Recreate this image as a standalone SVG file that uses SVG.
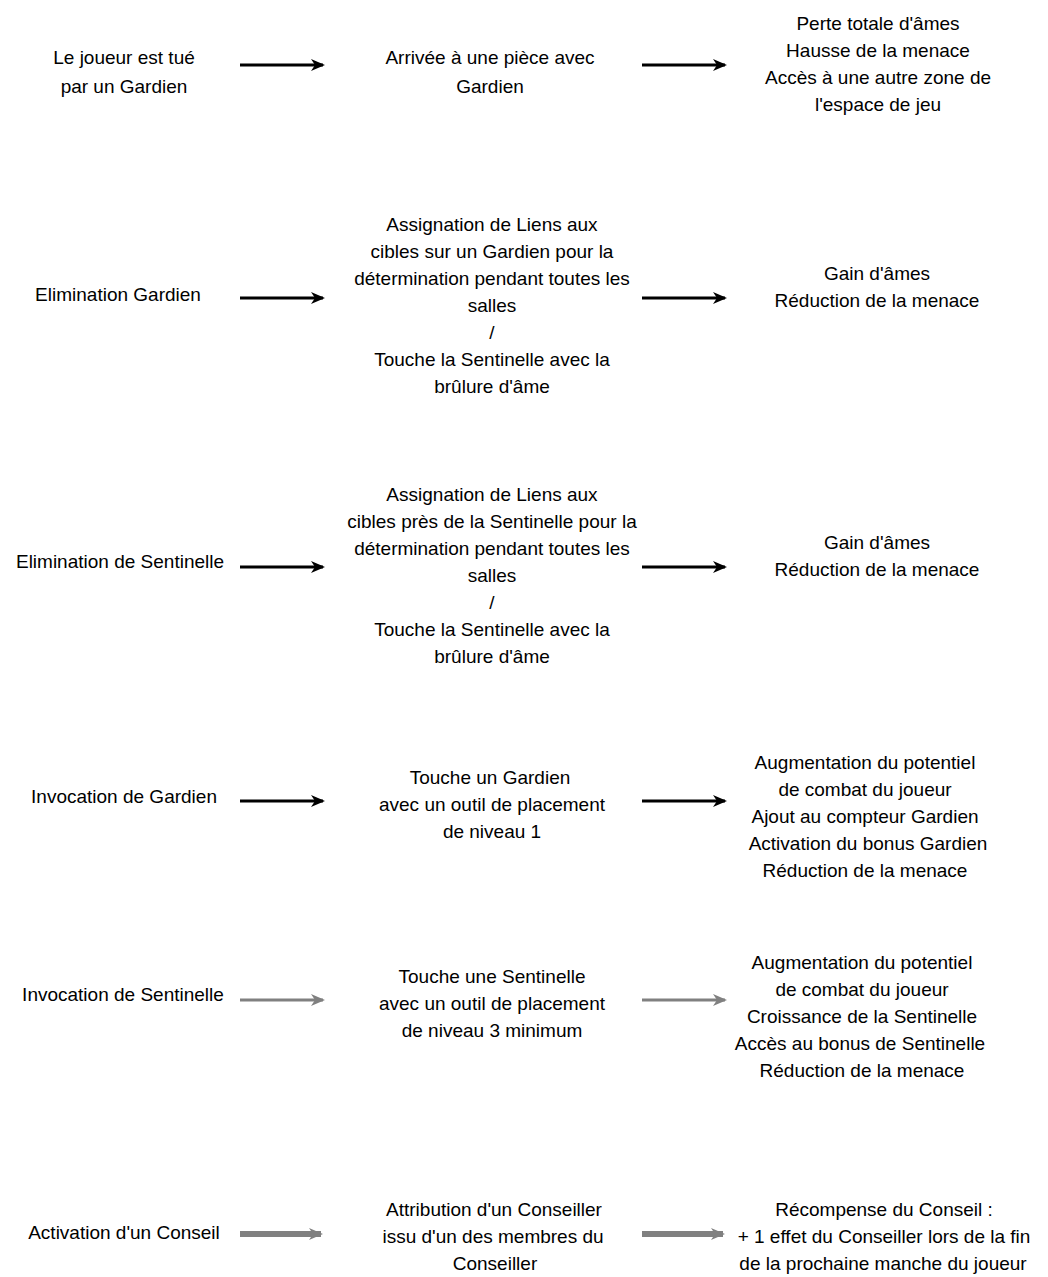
<svg xmlns="http://www.w3.org/2000/svg" width="1048" height="1277" viewBox="0 0 1048 1277">
<style>
text{font-family:"Liberation Sans",Arial,sans-serif;font-size:19px;fill:#000;text-anchor:middle}
.blk{stroke:#000;stroke-width:3;fill:none}
.gry{stroke:#808080;stroke-width:3;fill:none}
.gry2{stroke:#808080;stroke-width:6;fill:none}
</style>
<defs>
<marker id="hb" viewBox="0 0 14 14" markerWidth="14" markerHeight="14" refX="12" refY="7" orient="auto" markerUnits="userSpaceOnUse"><path d="M0,1 L14,7 L0,13 L4,7 z" fill="#000"/></marker>
<marker id="hg" viewBox="0 0 14 14" markerWidth="14" markerHeight="14" refX="12" refY="7" orient="auto" markerUnits="userSpaceOnUse"><path d="M0,1 L14,7 L0,13 L4,7 z" fill="#808080"/></marker>
</defs>
<rect width="1048" height="1277" fill="#fff"/>
<g id="connectors">
<line class="blk" x1="240" y1="65" x2="323" y2="65" marker-end="url(#hb)"/>
<line class="blk" x1="642" y1="65" x2="725" y2="65" marker-end="url(#hb)"/>
<line class="blk" x1="240" y1="298" x2="323" y2="298" marker-end="url(#hb)"/>
<line class="blk" x1="642" y1="298" x2="725" y2="298" marker-end="url(#hb)"/>
<line class="blk" x1="240" y1="567" x2="323" y2="567" marker-end="url(#hb)"/>
<line class="blk" x1="642" y1="567" x2="725" y2="567" marker-end="url(#hb)"/>
<line class="blk" x1="240" y1="801" x2="323" y2="801" marker-end="url(#hb)"/>
<line class="blk" x1="642" y1="801" x2="725" y2="801" marker-end="url(#hb)"/>
<line class="gry" x1="240" y1="1000" x2="323" y2="1000" marker-end="url(#hg)"/>
<line class="gry" x1="642" y1="1000" x2="725" y2="1000" marker-end="url(#hg)"/>
<line class="gry2" x1="240" y1="1234" x2="321" y2="1234" marker-end="url(#hg)"/>
<line class="gry2" x1="642" y1="1234" x2="723" y2="1234" marker-end="url(#hg)"/>
</g>
<g id="r1a"><text x="124" y="64">Le joueur est tué</text><text x="124" y="93">par un Gardien</text></g>
<g id="r1b"><text x="490" y="64">Arrivée à une pièce avec</text><text x="490" y="93">Gardien</text></g>
<g id="r1c"><text x="878" y="30">Perte totale d'âmes</text><text x="878" y="57">Hausse de la menace</text><text x="878" y="84">Accès à une autre zone de</text><text x="878" y="111">l'espace de jeu</text></g>
<g id="r2a"><text x="118" y="301">Elimination Gardien</text></g>
<g id="r2b"><text x="492" y="231">Assignation de Liens aux</text><text x="492" y="258">cibles sur un Gardien pour la</text><text x="492" y="285">détermination pendant toutes les</text><text x="492" y="312">salles</text><text x="492" y="339">/</text><text x="492" y="366">Touche la Sentinelle avec la</text><text x="492" y="393">brûlure d'âme</text></g>
<g id="r2c"><text x="877" y="280">Gain d'âmes</text><text x="877" y="307">Réduction de la menace</text></g>
<g id="r3a"><text x="120" y="568">Elimination de Sentinelle</text></g>
<g id="r3b"><text x="492" y="501">Assignation de Liens aux</text><text x="492" y="528">cibles près de la Sentinelle pour la</text><text x="492" y="555">détermination pendant toutes les</text><text x="492" y="582">salles</text><text x="492" y="609">/</text><text x="492" y="636">Touche la Sentinelle avec la</text><text x="492" y="663">brûlure d'âme</text></g>
<g id="r3c"><text x="877" y="549">Gain d'âmes</text><text x="877" y="576">Réduction de la menace</text></g>
<g id="r4a"><text x="124" y="803">Invocation de Gardien</text></g>
<g id="r4b"><text x="490" y="784">Touche un Gardien</text><text x="492" y="811">avec un outil de placement</text><text x="492" y="838">de niveau 1</text></g>
<g id="r4c"><text x="865" y="769">Augmentation du potentiel</text><text x="865" y="796">de combat du joueur</text><text x="865" y="823">Ajout au compteur Gardien</text><text x="868" y="850">Activation du bonus Gardien</text><text x="865" y="877">Réduction de la menace</text></g>
<g id="r5a"><text x="123" y="1001">Invocation de Sentinelle</text></g>
<g id="r5b"><text x="492" y="983">Touche une Sentinelle</text><text x="492" y="1010">avec un outil de placement</text><text x="492" y="1037">de niveau 3 minimum</text></g>
<g id="r5c"><text x="862" y="969">Augmentation du potentiel</text><text x="862" y="996">de combat du joueur</text><text x="862" y="1023">Croissance de la Sentinelle</text><text x="860" y="1050">Accès au bonus de Sentinelle</text><text x="862" y="1077">Réduction de la menace</text></g>
<g id="r6a"><text x="124" y="1239">Activation d'un Conseil</text></g>
<g id="r6b"><text x="494" y="1216">Attribution d'un Conseiller</text><text x="493" y="1243">issu d'un des membres du</text><text x="495" y="1270">Conseiller</text></g>
<g id="r6c"><text x="884" y="1216">Récompense du Conseil :</text><text x="884" y="1243">+ 1 effet du Conseiller lors de la fin</text><text x="883" y="1270">de la prochaine manche du joueur</text></g>
</svg>
